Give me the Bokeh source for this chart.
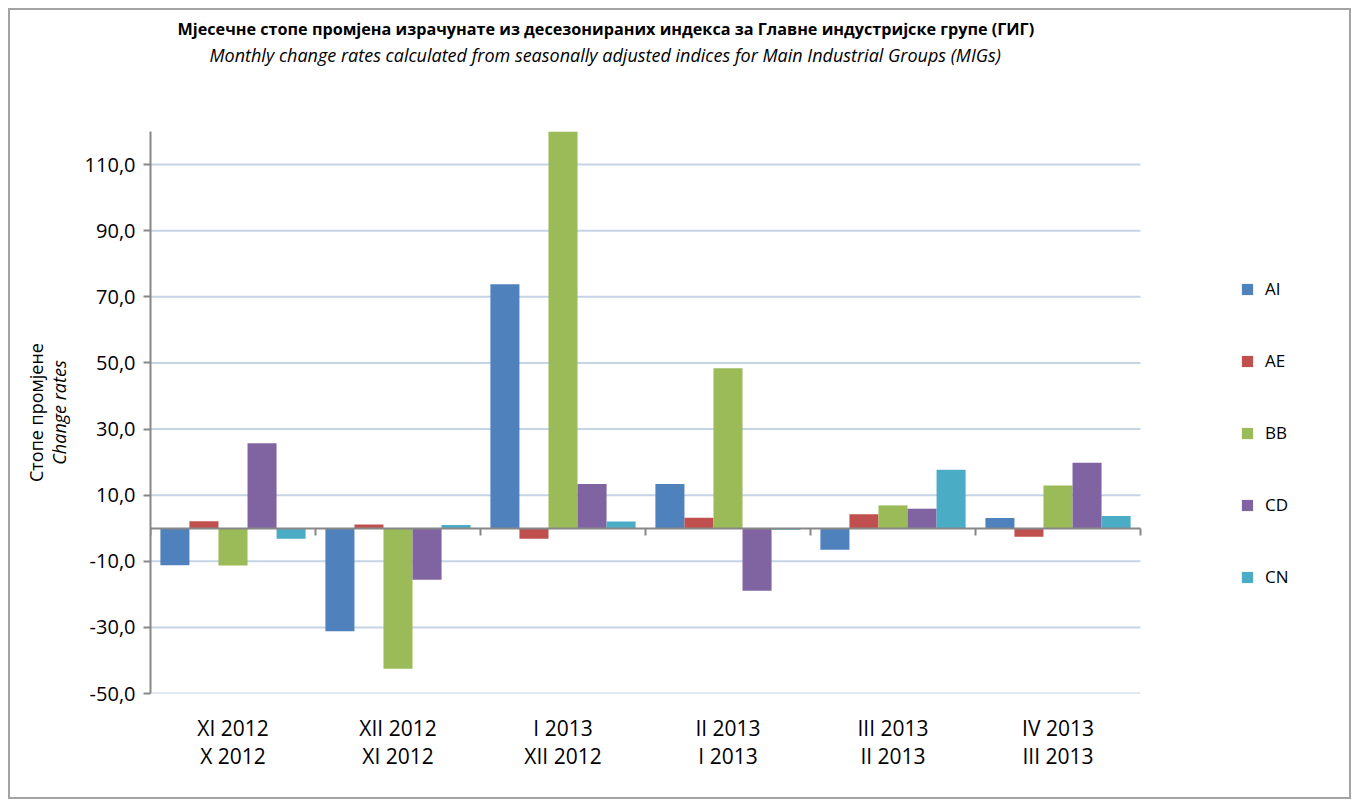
from bokeh.plotting import figure
from bokeh.models import FixedTicker, LinearAxis, Range1d, Legend, LegendItem, Title
from bokeh.embed import file_html
from bokeh.resources import INLINE

# ---- data ----
periods_current = ["XI 2012", "XII 2012", "I 2013", "II 2013", "III 2013", "IV 2013"]
periods_previous = ["X 2012", "XI 2012", "XII 2012", "I 2013", "II 2013", "III 2013"]
series_names = ["AI", "AE", "BB", "CD", "CN"]
AI = [-11.2, -31.2, 73.8, 13.4, -6.5, 3.1]
AE = [2.1, 1.1, -3.2, 3.2, 4.2, -2.6]
BB = [-11.3, -42.5, 125.0, 48.4, 6.9, 12.9]
CD = [25.7, -15.6, 13.4, -18.9, 5.9, 19.8]
CN = [-3.2, 1.0, 2.0, -0.5, 17.7, 3.7]
y_ticks = [-50, -30, -10, 10, 30, 50, 70, 90, 110]

series_values = [AI, AE, BB, CD, CN]
colors = ["#4F81BD", "#C0504D", "#9BBB59", "#8064A2", "#4BACC6"]
FONT = "Open Sans"
AXIS_GRAY = "#878787"
GRID = "#C6D4E6"

# geometry: the category area is 990 px wide, the frame continues to the right
# so that the legend (drawn inside the frame) is not clipped
n_groups = len(periods_current)
CAT_PX = 990
FRAME_PX = 1190
x_start = -0.5
x_cat_end = x_start + n_groups
x_end = x_start + n_groups * FRAME_PX / CAT_PX

p = figure(width=1343, height=791, output_backend="svg", toolbar_location=None,
           title=None, x_range=Range1d(x_start, x_end), y_range=Range1d(-50, 120),
           min_border_left=140, min_border_right=1343 - 140 - FRAME_PX, min_border_top=121,
           min_border_bottom=108)
p.styles = {"margin": "8px", "border": "2px solid #a3a3a3"}
p.outline_line_color = None

# gridlines limited to the category area
p.xgrid.visible = False
p.ygrid.visible = False
p.segment(x0=x_start, x1=x_cat_end, y0=y_ticks, y1=y_ticks,
          line_color=GRID, line_width=2, level="underlay")

n = len(series_names)
bar_w = 0.176
group_idx = list(range(n_groups))
renderers = []
for j, (name, vals, col) in enumerate(zip(series_names, series_values, colors)):
    xs = [i + (j - (n - 1) / 2) * bar_w for i in group_idx]
    r = p.vbar(x=xs, top=vals, bottom=0, width=bar_w, fill_color=col, line_color=None)
    renderers.append(r)

# y axis
yax = p.yaxis[0]
yax.ticker = FixedTicker(ticks=y_ticks)
yax.major_label_overrides = {v: f"{v:.1f}".replace(".", ",") for v in y_ticks}
yax.axis_line_color = AXIS_GRAY
yax.axis_line_width = 2
yax.major_tick_line_color = AXIS_GRAY
yax.major_tick_line_width = 2
yax.major_tick_in = 0
yax.major_tick_out = 7
yax.minor_tick_line_color = None
yax.major_label_text_font = FONT
yax.major_label_text_font_size = "20px"
yax.major_label_text_color = "#000000"
yax.major_label_standoff = 8
yax.axis_label = "Change rates"
yax.axis_label_text_font = FONT
yax.axis_label_text_font_style = "italic"
yax.axis_label_text_font_size = "18px"
yax.axis_label_text_color = "#000000"
yax.axis_label_standoff = 11

p.add_layout(Title(text="Стопе промјене", align="center", text_font=FONT,
                   text_font_style="normal", text_font_size="18px",
                   text_color="#000000", standoff=-8), "left")

# category axis (bottom)
xax = p.xaxis[0]
xax.ticker = FixedTicker(ticks=group_idx)
xax.major_label_overrides = {i: f"{a}\n{b}" for i, a, b in zip(group_idx, periods_current, periods_previous)}
xax.axis_line_color = None
xax.major_tick_line_color = None
xax.minor_tick_line_color = None
xax.major_label_text_font = FONT
xax.major_label_text_font_size = "21px"
xax.major_label_text_line_height = 1.03
xax.major_label_text_color = "#000000"
xax.major_label_standoff = 14

# zero axis with group separators
zero_axis = LinearAxis(fixed_location=0, bounds=(x_start, x_cat_end),
                       ticker=FixedTicker(ticks=[i - 0.5 for i in group_idx] + [group_idx[-1] + 0.5]),
                       axis_line_color=AXIS_GRAY, axis_line_width=2,
                       major_tick_line_color=AXIS_GRAY, major_tick_line_width=2,
                       major_tick_in=0, major_tick_out=7, minor_tick_line_color=None,
                       major_label_text_font_size="0px")
p.add_layout(zero_axis, "below")

# titles (spacer, subtitle, title stacked upward from the frame)
p.add_layout(Title(text=" ", text_font_size="2px", standoff=59), "above")
p.add_layout(Title(text="Monthly change rates calculated from seasonally adjusted indices for Main Industrial Groups (MIGs)",
                   align="left", offset=59, text_font=FONT, text_font_style="italic",
                   text_font_size="18px", text_color="#000000", standoff=4), "above")
p.add_layout(Title(text="Мјесечне стопе промјена израчунате из десезонираних индекса за Главне индустријске групе (ГИГ)",
                   align="left", offset=27, text_font=FONT, text_font_style="bold",
                   text_font_size="16.2px", text_color="#000000", standoff=-2), "above")

legend = Legend(items=[LegendItem(label=nm, renderers=[r]) for nm, r in zip(series_names, renderers)],
                location=(1090, 105), orientation="vertical",
                border_line_color=None, background_fill_alpha=0,
                glyph_width=14, glyph_height=14, label_height=20, spacing=49,
                padding=0, margin=0, label_standoff=11,
                label_text_font=FONT, label_text_font_size="17px", label_text_color="#000000")
p.add_layout(legend)

open("out.html", "w").write(file_html(p, INLINE))
